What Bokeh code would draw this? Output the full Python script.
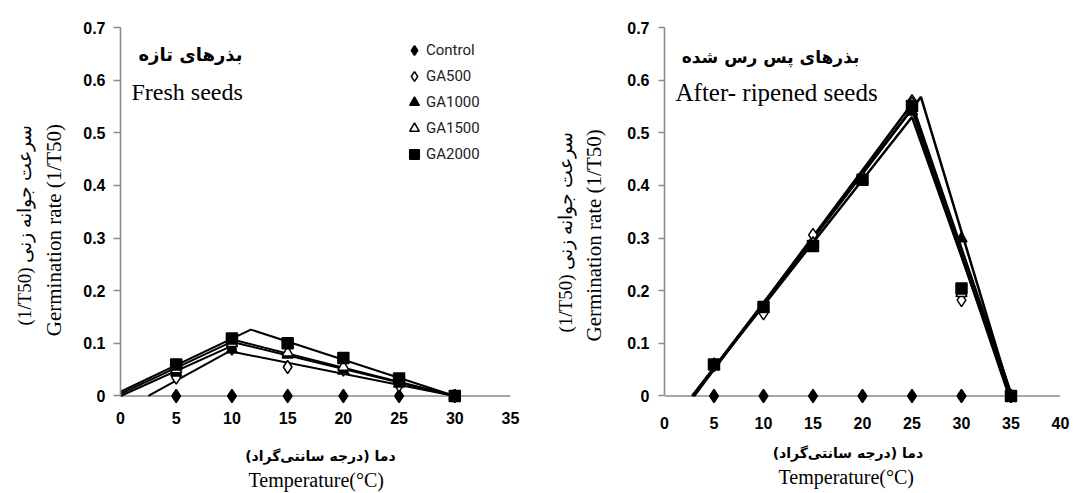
import math
from bokeh.plotting import figure
from bokeh.models import (Range1d, FixedTicker, CustomJSTickFormatter, Label,
                          Legend, LegendItem, Span, Title)
from bokeh.layouts import row
from bokeh.embed import file_html
from bokeh.resources import INLINE

# ---------------- data ----------------
series = ["Control", "GA500", "GA1000", "GA1500", "GA2000"]

# Fresh seeds
fresh_temp = [5, 10, 15, 20, 25, 30]
fresh_control = [0, 0, 0, 0, 0, 0]
fresh_ga500 = [0.035, 0.090, 0.055, 0.050, 0.020, 0]
fresh_ga1000 = [0.044, 0.088, 0.078, 0.048, 0.023, 0]
fresh_ga1500 = [0.050, 0.100, 0.082, 0.055, 0.028, 0]
fresh_ga2000 = [0.060, 0.109, 0.100, 0.072, 0.033, 0]

# fitted segmented lines (base, optimum, ceiling) - fresh seeds
fresh_fit_temp = [[2.5, 9.8, 30], [0, 10.5, 30], [0, 10.3, 30], [0, 11.7, 30]]
fresh_fit_rate = [[0, 0.085, 0], [0.0, 0.100, 0], [0.004, 0.106, 0], [0.008, 0.126, 0]]

# After-ripened seeds
ar_temp = [5, 10, 15, 20, 25, 30, 35]
ar_control = [0, 0, 0, 0, 0, 0, 0]
ar_ga500 = [0.058, 0.157, 0.306, 0.415, 0.560, 0.182, 0]
ar_ga1000 = [0.060, 0.165, 0.290, 0.410, 0.540, 0.299, 0]
ar_ga1500 = [0.060, 0.165, 0.290, 0.410, 0.556, 0.195, 0]
ar_ga2000 = [0.060, 0.169, 0.285, 0.411, 0.551, 0.204, 0]

# fitted segmented lines - after-ripened seeds
ar_fit_temp = [[2.8, 25, 34.8], [2.9, 25.9, 35], [2.8, 25, 35], [3.0, 25, 35.1]]
ar_fit_rate = [[0, 0.545, 0], [0, 0.568, 0], [0, 0.530, 0], [0, 0.555, 0]]

x_ticks_fresh = [0, 5, 10, 15, 20, 25, 30, 35]
x_ticks_ar = [0, 5, 10, 15, 20, 25, 30, 35, 40]
y_ticks = [0, 0.1, 0.2, 0.3, 0.4, 0.5, 0.6, 0.7]

# ---------------- styles ----------------
AXIS_GRAY = "#8a8a8a"
marker_style = {
    "Control": dict(marker="diamond", size=13, fill_color="black"),
    "GA500": dict(marker="diamond", size=13, fill_color="white"),
    "GA1000": dict(marker="triangle", size=11, fill_color="black"),
    "GA1500": dict(marker="triangle", size=11, fill_color="white"),
    "GA2000": dict(marker="square", size=11, fill_color="black"),
}

SERIF = "Liberation Serif"
SANS = "Liberation Sans"
ARABIC = "DejaVu Sans"
NB = "\u00a0"
RLM = "\u200f"
H = 492


def make_fig(width, xmax, xticks, b_left, b_right, b_top, b_bottom,
             x_standoff, y_tick_out, y_standoff):
    p = figure(width=width, height=H, x_range=Range1d(0, xmax),
               y_range=Range1d(-0.02, 0.7), output_backend="svg",
               toolbar_location=None, title=None,
               min_border_left=b_left, min_border_right=b_right,
               min_border_top=b_top, min_border_bottom=b_bottom)
    p.outline_line_color = None
    p.grid.visible = False
    p.background_fill_color = "white"
    p.border_fill_color = "white"
    for ax in (p.xaxis[0], p.yaxis[0]):
        ax.major_tick_line_color = AXIS_GRAY
        ax.major_tick_line_width = 1.4
        ax.minor_tick_line_color = None
        ax.major_label_text_font = SANS
        ax.major_label_text_font_style = "bold"
        ax.major_label_text_font_size = "16px"
        ax.major_label_text_color = "black"
        ax.axis_label_text_color = "black"
        ax.axis_label_text_font_style = "normal"
    # x axis: labels only, the zero line is drawn as a span at y = 0
    p.xaxis.axis_line_color = None
    p.xaxis.ticker = FixedTicker(ticks=xticks)
    p.xaxis.major_tick_in = 0
    p.xaxis.major_tick_out = 0
    p.xaxis.major_label_standoff = x_standoff
    p.add_layout(Span(location=0, dimension="width", line_color=AXIS_GRAY,
                      line_width=1.6, level="underlay"))
    p.yaxis.axis_line_color = AXIS_GRAY
    p.yaxis.axis_line_width = 1.6
    p.yaxis.ticker = FixedTicker(ticks=y_ticks)
    p.yaxis.bounds = (0, 0.7)
    p.yaxis.major_tick_in = 0
    p.yaxis.major_tick_out = y_tick_out
    p.yaxis.major_label_standoff = y_standoff
    p.yaxis.formatter = CustomJSTickFormatter(
        code="return Math.abs(tick) < 1e-9 ? '0' : tick.toFixed(1);")
    return p


def add_data(p, temps, values, fit_x, fit_y, lw):
    for fx, fy in zip(fit_x, fit_y):
        p.line(fx, fy, line_color="black", line_width=lw)
    rends = {}
    for name, vals in zip(series, values):
        st = marker_style[name]
        rends[name] = p.scatter(temps, vals, marker=st["marker"], size=st["size"],
                                fill_color=st["fill_color"], line_color="black",
                                line_width=1.5)
    return rends


def add_text(p, text, x, y, font, size, style="normal", align="center"):
    p.add_layout(Label(x=x, y=y, x_units="screen", y_units="screen", text=text,
                       text_font=font, text_font_size=size, text_font_style=style,
                       text_align=align, text_baseline="middle",
                       text_color="black"))


def add_axis_texts(p, x_fa, x_fa_standoff, x_en_offset, y_en, y_en_standoff,
                   y_fa_offset, y_fa_standoff):
    # x axis: Persian label as axis label, English label as a title below it
    p.xaxis.axis_label = x_fa
    p.xaxis.axis_label_text_font = ARABIC
    p.xaxis.axis_label_text_font_style = "bold"
    p.xaxis.axis_label_text_font_size = "14px"
    p.xaxis.axis_label_standoff = x_fa_standoff
    p.add_layout(Title(text="Temperature(°C)", align="left", offset=x_en_offset,
                       vertical_align="bottom", standoff=1,
                       text_font=SERIF, text_font_size="20px",
                       text_font_style="normal", text_color="black"), "below")
    # y axis: English label as axis label, Persian label as a title outside it
    p.yaxis.axis_label = y_en
    p.yaxis.axis_label_text_font = SERIF
    p.yaxis.axis_label_text_font_size = "21px"
    p.yaxis.axis_label_standoff = y_en_standoff
    p.add_layout(Title(text="(1/T50) سرعت جوانه زنی", align="left",
                       offset=y_fa_offset, vertical_align="bottom",
                       standoff=y_fa_standoff, text_font=SERIF,
                       text_font_size="19px", text_font_style="normal",
                       text_color="black"), "left")


x_label_fa = "دما (درجه سانتی\u200cگراد)" + RLM
y_label_en = "Germination rate (1/T50)"

# ---------------- left: fresh seeds ----------------
p1 = make_fig(532, 35, x_ticks_fresh, 120, 22, 24, H - 406, 5, 7, 8)
r1 = add_data(p1, fresh_temp,
              [fresh_control, fresh_ga500, fresh_ga1000, fresh_ga1500, fresh_ga2000],
              fresh_fit_temp, fresh_fit_rate, 2)
add_text(p1, "بذرهای تازه", 70, 352, ARABIC, "18px", "bold")
add_text(p1, "Fresh seeds", 11, 315, SERIF, "24px", align="left")
add_axis_texts(p1, NB * 2 + x_label_fa, 21, 128, y_label_en + NB * 5, 14, 81, 10)

legend = Legend(items=[LegendItem(label=n, renderers=[r1[n]]) for n in series],
                location=(282, 239), orientation="vertical",
                glyph_width=24, glyph_height=26, label_height=26, spacing=0,
                label_standoff=0, padding=0, margin=0,
                background_fill_alpha=0, border_line_color=None,
                label_text_font="Roboto", label_text_font_size="15px",
                label_text_color="#222222")
p1.add_layout(legend)

# ---------------- right: after-ripened seeds ----------------
p2 = make_fig(540, 40, x_ticks_ar, 132, 12, 27, H - 409, 10, 6, 9)
add_data(p2, ar_temp, [ar_control, ar_ga500, ar_ga1000, ar_ga1500, ar_ga2000],
         ar_fit_temp, ar_fit_rate, 2.5)
add_text(p2, "بذرهای پس رس شده", 106, 350, ARABIC, "17px", "bold")
add_text(p2, "After- ripened seeds", 11, 314, SERIF, "25px", align="left")
add_axis_texts(p2, x_label_fa + NB * 6, 13, 114, y_label_en + NB * 7, 18, 74, 8)

layout = row(p1, p2)
open("out.html", "w").write(file_html(layout, INLINE))
